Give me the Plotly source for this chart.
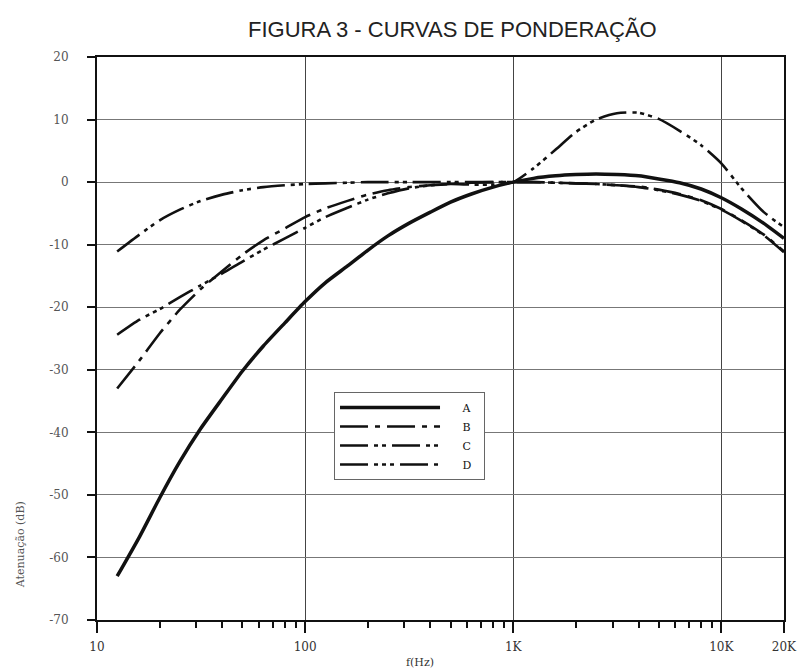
import plotly.graph_objects as go

# Weighting curves (attenuation in dB) at one-third-octave frequencies
freq_hz = [12.5, 16, 20, 25, 31.5, 40, 50, 63, 80, 100, 125, 160, 200, 250, 315, 400,
           500, 630, 800, 1000, 1250, 1600, 2000, 2500, 3150, 4000, 5000, 6300, 8000,
           10000, 12500, 16000, 20000]

curve_a = [-63.0, -56.7, -50.5, -44.7, -39.4, -34.6, -30.2, -26.2, -22.5, -19.1, -16.1,
           -13.4, -10.9, -8.6, -6.6, -4.8, -3.2, -1.9, -0.8, 0.0, 0.6, 1.0, 1.2, 1.3, 1.2,
           1.0, 0.5, -0.1, -1.1, -2.5, -4.3, -6.6, -9.0]
curve_b = [-33.0, -28.5, -24.2, -20.4, -17.1, -14.2, -11.6, -9.3, -7.4, -5.6, -4.2, -3.0,
           -2.0, -1.3, -0.8, -0.5, -0.3, -0.1, 0.0, 0.0, 0.0, -0.1, -0.2, -0.3, -0.5, -0.7,
           -1.2, -1.9, -2.9, -4.3, -6.1, -8.4, -11.1]
curve_c = [-11.1, -8.4, -6.1, -4.4, -3.0, -2.0, -1.3, -0.8, -0.5, -0.3, -0.2, -0.1, 0.0,
           0.0, 0.0, 0.0, 0.0, 0.0, 0.0, 0.0, 0.0, -0.1, -0.2, -0.3, -0.5, -0.8, -1.3, -2.0,
           -3.0, -4.4, -6.2, -8.5, -11.2]
curve_d = [-24.4, -22.0, -20.3, -18.4, -16.5, -14.6, -12.7, -10.8, -9.0, -7.3, -5.6, -4.1,
           -2.8, -1.8, -1.0, -0.5, -0.3, -0.4, -0.4, 0.0, 2.2, 5.2, 8.0, 10.0, 11.0, 11.1,
           10.1, 8.2, 5.9, 3.0, -1.0, -4.8, -7.2]

series_names = ["A", "B", "C", "D"]
series_values = [curve_a, curve_b, curve_c, curve_d]
series_dash = ["solid", "28px,7px,5px,7px", "28px,6px,4px,4px,4px,6px",
               "28px,6px,4px,4px,4px,4px,4px,6px"]
series_width = [3.5, 2.6, 2.6, 2.6]

x_tick_vals = [10, 100, 1000, 10000, 20000]
x_tick_text = ["10", "100", "1K", "10K", "20K"]
x_minor_vals = [m * d for d in (10, 100, 1000) for m in range(2, 10)]
y_tick_vals = list(range(-70, 21, 10))
y_tick_text = [str(v) for v in y_tick_vals]

serif = "DejaVu Serif"
nb = "\u00a0"

fig = go.Figure()
for name, vals, dash, w in zip(series_names, series_values, series_dash, series_width):
    fig.add_trace(go.Scatter(
        x=freq_hz, y=vals, name=nb * 5 + name + nb * 2, mode="lines",
        line=dict(color="#111111", width=w, dash=dash, shape="spline", smoothing=0.6),
    ))

fig.update_layout(
    width=797, height=668,
    margin=dict(l=97, r=13, t=57, b=48),
    paper_bgcolor="white", plot_bgcolor="white",
    showlegend=True,
    legend=dict(
        x=0.345, y=0.405, xanchor="left", yanchor="top",
        bgcolor="white", bordercolor="#666666", borderwidth=1,
        font=dict(family=serif, size=11, color="#111111"),
        itemwidth=100, tracegroupgap=0,
    ),
    annotations=[
        dict(text="FIGURA 3 - CURVAS DE PONDERAÇÃO", xref="paper", yref="paper",
             x=0.518, y=1.048, xanchor="center", yanchor="middle", showarrow=False,
             font=dict(family="Liberation Sans", size=22, color="#222222")),
        dict(text="Atenuação (dB)", xref="paper", yref="paper", textangle=-90,
             x=-0.112, y=0.133, xanchor="center", yanchor="middle", showarrow=False,
             font=dict(family=serif, size=11, color="#555555")),
        dict(text="f(Hz)", xref="paper", yref="paper",
             x=0.470, y=-0.075, xanchor="center", yanchor="middle", showarrow=False,
             font=dict(family=serif, size=11, color="#333333")),
    ],
)

fig.update_xaxes(
    type="log", range=[1, 4.3012], automargin=False,
    tickmode="array", tickvals=x_tick_vals, ticktext=x_tick_text,
    ticks="outside", ticklen=11, tickwidth=2, tickcolor="#111111",
    showline=True, linecolor="#111111", linewidth=2, mirror=True,
    showgrid=True, gridcolor="#444444", gridwidth=1.2,
    zeroline=False, ticklabelstandoff=4, ticklabeloverflow="allow",
    tickfont=dict(family=serif, size=12, color="#333333"),
    minor=dict(tickmode="array", tickvals=x_minor_vals, ticks="outside",
               ticklen=6, tickwidth=2, tickcolor="#111111", showgrid=False),
)
fig.update_yaxes(
    range=[-70, 20], tickmode="array", tickvals=y_tick_vals, ticktext=y_tick_text,
    ticks="outside", ticklen=8, tickwidth=2, tickcolor="#111111",
    showline=True, linecolor="#111111", linewidth=2, mirror=True,
    showgrid=True, gridcolor="#777777", gridwidth=1,
    zeroline=False, ticklabelstandoff=16,
    tickfont=dict(family=serif, size=12, color="#555555"),
)

fig.write_html("out.html")
